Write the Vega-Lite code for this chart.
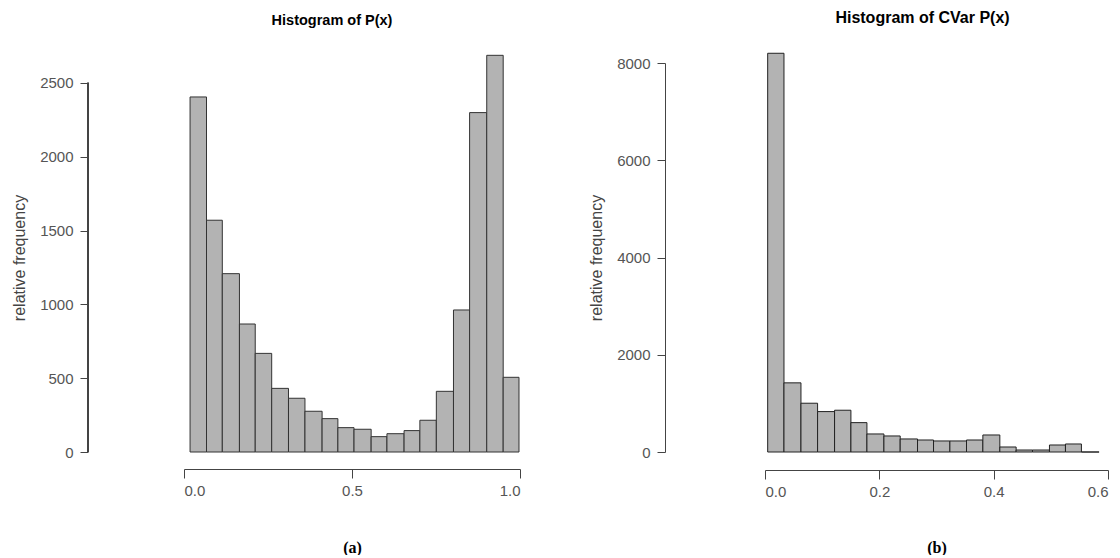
{
  "$schema": "https://vega.github.io/schema/vega-lite/v6.json",
  "background": "white",
  "padding": {"left": 11, "top": 10, "right": 5, "bottom": 0},
  "spacing": 67,
  "config": {
    "view": {"stroke": null},
    "font": "Liberation Sans",
    "axis": {
      "grid": false,
      "domainColor": "#444",
      "tickColor": "#444",
      "labelColor": "#555",
      "labelFont": "Liberation Sans",
      "labelFontSize": 15,
      "titleFont": "Liberation Sans",
      "titleFontWeight": "normal",
      "titleColor": "#444",
      "titleFontSize": 16
    },
    "title": {"font": "Liberation Sans", "fontSize": 14.5, "fontWeight": "bold", "color": "#000"}
  },
  "hconcat": [
    {
      "width": 336,
      "height": 389,
      "title": {"text": "Histogram of P(x)", "anchor": "middle", "dx": -20, "offset": 26.5},
      "data": {"values": [
        {"start": 0.018, "end": 0.067, "count": 2405},
        {"start": 0.067, "end": 0.114, "count": 1570},
        {"start": 0.114, "end": 0.165, "count": 1208},
        {"start": 0.165, "end": 0.212, "count": 867},
        {"start": 0.212, "end": 0.261, "count": 668},
        {"start": 0.261, "end": 0.311, "count": 431},
        {"start": 0.311, "end": 0.360, "count": 364},
        {"start": 0.360, "end": 0.411, "count": 276},
        {"start": 0.411, "end": 0.458, "count": 226},
        {"start": 0.458, "end": 0.506, "count": 165},
        {"start": 0.506, "end": 0.557, "count": 154},
        {"start": 0.557, "end": 0.604, "count": 104},
        {"start": 0.604, "end": 0.655, "count": 124},
        {"start": 0.655, "end": 0.702, "count": 145},
        {"start": 0.702, "end": 0.751, "count": 215},
        {"start": 0.751, "end": 0.802, "count": 411},
        {"start": 0.802, "end": 0.850, "count": 962},
        {"start": 0.850, "end": 0.901, "count": 2299},
        {"start": 0.901, "end": 0.950, "count": 2687},
        {"start": 0.950, "end": 0.997, "count": 506}
      ]},
      "layer": [
        {
          "mark": {"type": "bar", "fill": "#b3b3b3", "stroke": "#333", "strokeWidth": 1, "clip": false},
          "encoding": {
            "x": {"field": "start", "type": "quantitative",
                  "scale": {"domain": [0, 1], "nice": false, "zero": false},
                  "axis": {"values": [0, 0.5, 1], "format": ".1f", "offset": 17, "tickSize": 9, "labelPadding": 5,
                           "title": "(a)", "titleFont": "Liberation Serif", "titleFontSize": 16, "titleFontWeight": "bold",
                           "titleColor": "#000", "titlePadding": 41}},
            "x2": {"field": "end"},
            "y": {"field": "count", "type": "quantitative",
                  "scale": {"domain": [0, 2635], "nice": false},
                  "axis": {"values": [0, 500, 1000, 1500, 2000, 2500], "format": "d", "offset": 96, "domain": false,
                           "tickSize": 8, "labelPadding": 7, "title": "relative frequency", "titlePadding": 12}},
            "y2": {"datum": 0}
          }
        },
        {
          "mark": {"type": "rule", "color": "#444", "strokeWidth": 1, "clip": false},
          "encoding": {
            "x": {"datum": -0.28571},
            "y": {"datum": 0},
            "y2": {"datum": 2500}
          }
        }
      ]
    },
    {
      "width": 343,
      "height": 389,
      "title": {"text": "Histogram of CVar P(x)", "anchor": "middle", "dx": -14, "offset": 26.5, "fontSize": 16},
      "data": {"values": [
        {"start": 0.0047, "end": 0.0332, "count": 8200},
        {"start": 0.0332, "end": 0.0629, "count": 1422},
        {"start": 0.0629, "end": 0.0920, "count": 1003},
        {"start": 0.0920, "end": 0.1217, "count": 831},
        {"start": 0.1217, "end": 0.1503, "count": 859},
        {"start": 0.1503, "end": 0.1783, "count": 604},
        {"start": 0.1783, "end": 0.2080, "count": 371},
        {"start": 0.2080, "end": 0.2365, "count": 330},
        {"start": 0.2365, "end": 0.2668, "count": 268},
        {"start": 0.2668, "end": 0.2948, "count": 247},
        {"start": 0.2948, "end": 0.3234, "count": 227},
        {"start": 0.3234, "end": 0.3525, "count": 227},
        {"start": 0.3525, "end": 0.3811, "count": 247},
        {"start": 0.3811, "end": 0.4108, "count": 350},
        {"start": 0.4108, "end": 0.4393, "count": 103},
        {"start": 0.4393, "end": 0.4679, "count": 41},
        {"start": 0.4679, "end": 0.4976, "count": 41},
        {"start": 0.4976, "end": 0.5256, "count": 144},
        {"start": 0.5256, "end": 0.5535, "count": 165},
        {"start": 0.5535, "end": 0.5844, "count": 0}
      ]},
      "mark": {"type": "bar", "fill": "#b3b3b3", "stroke": "#222", "strokeWidth": 1, "clip": false},
      "encoding": {
        "x": {"field": "start", "type": "quantitative",
              "scale": {"domain": [0, 0.6], "nice": false, "zero": false},
              "axis": {"values": [0, 0.2, 0.4, 0.6], "format": ".1f", "offset": 18, "tickSize": 9, "labelPadding": 5,
                       "title": "(b)", "titleFont": "Liberation Serif", "titleFontSize": 16, "titleFontWeight": "bold",
                       "titleColor": "#000", "titlePadding": 40}},
        "x2": {"field": "end"},
        "y": {"field": "count", "type": "quantitative",
              "scale": {"domain": [0, 8000], "nice": false},
              "axis": {"values": [0, 2000, 4000, 6000, 8000], "format": "d", "offset": 100,
                       "tickSize": 8, "labelPadding": 7, "title": "relative frequency", "titlePadding": 12}},
        "y2": {"datum": 0}
      }
    }
  ]
}
